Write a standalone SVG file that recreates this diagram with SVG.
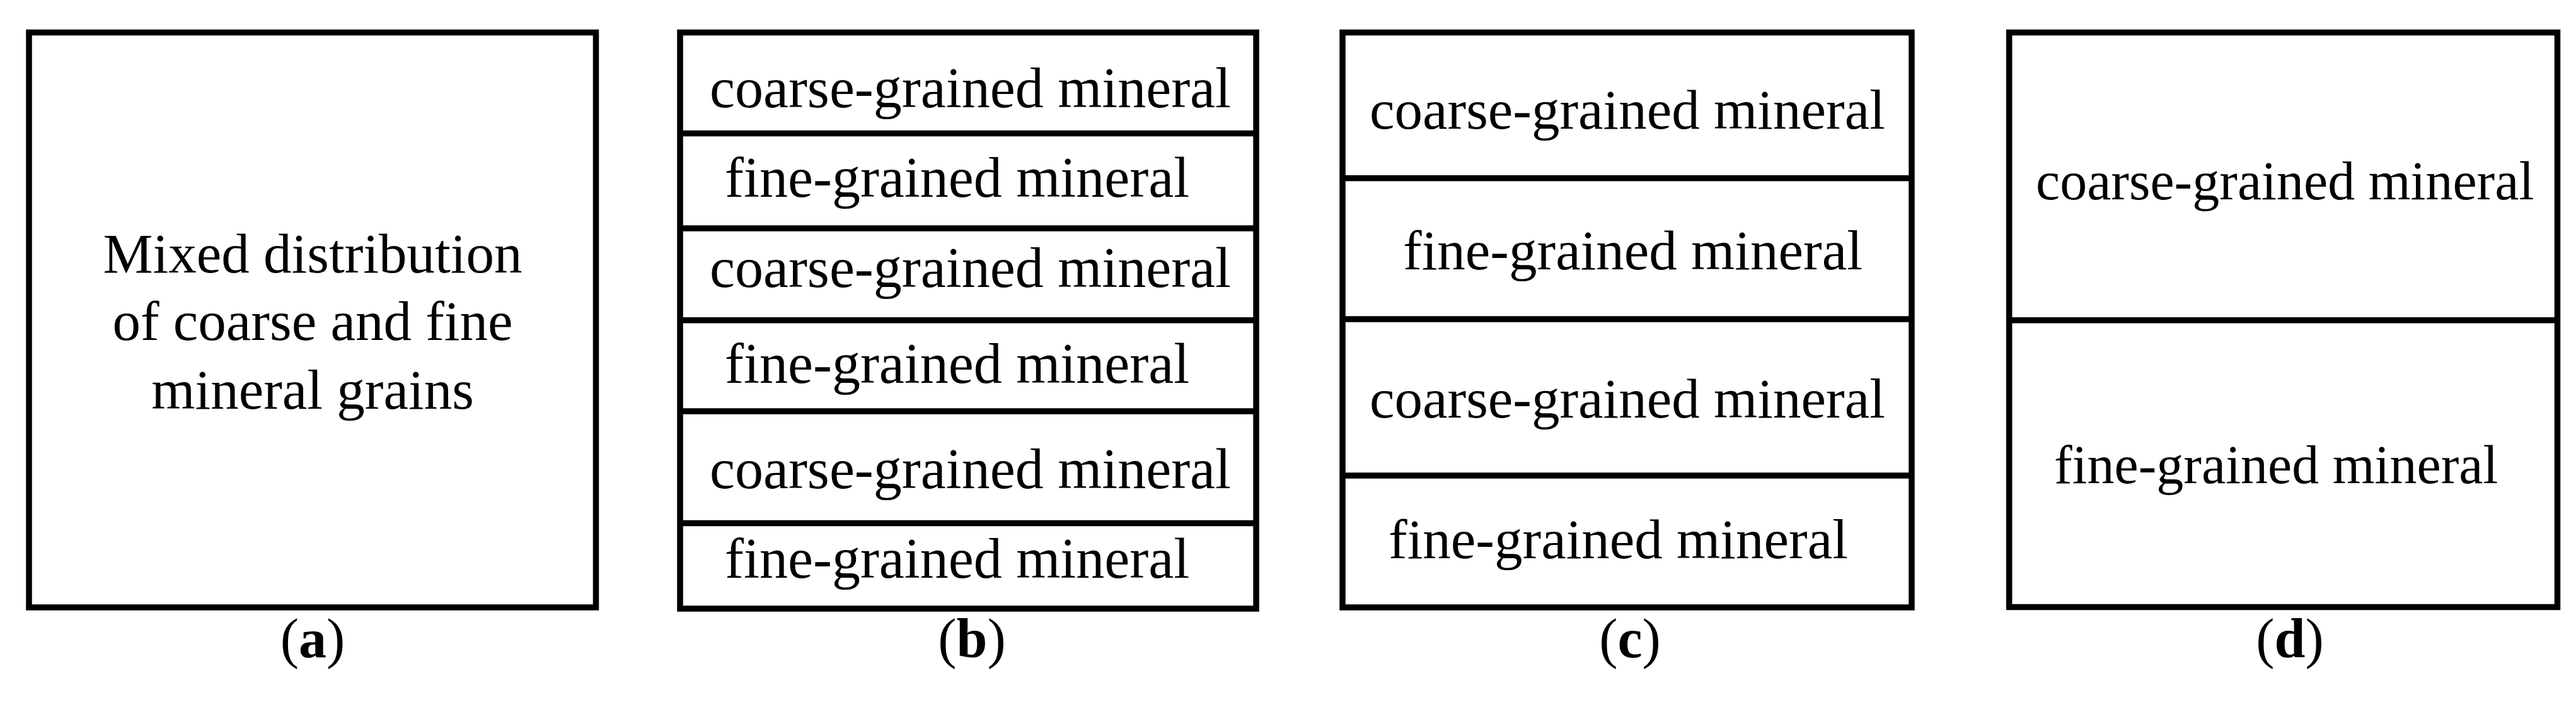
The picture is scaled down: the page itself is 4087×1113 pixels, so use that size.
<svg xmlns="http://www.w3.org/2000/svg" width="4087" height="1113" viewBox="0 0 4087 1113">
<style>
.box{fill:none;stroke:#000;stroke-width:9.5}
.div{stroke:#000;stroke-width:9.5}
.t{font-family:"Liberation Serif","Times New Roman",serif;fill:#000}
.lb{font-family:"Liberation Serif","Times New Roman",serif;font-size:88px;fill:#000;text-anchor:middle}
</style>
<rect width="4087" height="1113" fill="#fff"/>
<g id="panel-a">
<rect class="box" x="46" y="51.5" width="899.5" height="911.5"/>
<text class="t" font-size="89" text-anchor="middle" x="496" y="432">Mixed distribution</text>
<text class="t" font-size="89" text-anchor="middle" x="496" y="539">of coarse and fine</text>
<text class="t" font-size="89" text-anchor="middle" x="496" y="648">mineral grains</text>
<text class="lb" x="496" y="1042">(<tspan font-weight="bold">a</tspan>)</text>
</g>
<g id="panel-b">
<rect class="box" x="1079" y="51.5" width="914" height="913.5"/>
<line class="div" x1="1079" y1="211.5" x2="1993" y2="211.5"/>
<line class="div" x1="1079" y1="362" x2="1993" y2="362"/>
<line class="div" x1="1079" y1="507.7" x2="1993" y2="507.7"/>
<line class="div" x1="1079" y1="652" x2="1993" y2="652"/>
<line class="div" x1="1079" y1="829.5" x2="1993" y2="829.5"/>
<text class="t" font-size="90" x="1126" y="170">coarse-grained mineral</text>
<text class="t" font-size="90" x="1150" y="312">fine-grained mineral</text>
<text class="t" font-size="90" x="1126" y="455">coarse-grained mineral</text>
<text class="t" font-size="90" x="1150" y="607">fine-grained mineral</text>
<text class="t" font-size="90" x="1126" y="774">coarse-grained mineral</text>
<text class="t" font-size="90" x="1150" y="916">fine-grained mineral</text>
<text class="lb" x="1542" y="1042">(<tspan font-weight="bold">b</tspan>)</text>
</g>
<g id="panel-c">
<rect class="box" x="2130" y="51.5" width="903" height="911.5"/>
<line class="div" x1="2130" y1="282.5" x2="3033" y2="282.5"/>
<line class="div" x1="2130" y1="506" x2="3033" y2="506"/>
<line class="div" x1="2130" y1="754" x2="3033" y2="754"/>
<text class="t" font-size="89" x="2173" y="204">coarse-grained mineral</text>
<text class="t" font-size="89" x="2226" y="427">fine-grained mineral</text>
<text class="t" font-size="89" x="2173" y="662">coarse-grained mineral</text>
<text class="t" font-size="89" x="2203" y="885">fine-grained mineral</text>
<text class="lb" x="2586" y="1042">(<tspan font-weight="bold">c</tspan>)</text>
</g>
<g id="panel-d">
<rect class="box" x="3187.7" y="51.5" width="869.8" height="911"/>
<line class="div" x1="3187.7" y1="507.7" x2="4057.5" y2="507.7"/>
<text class="t" font-size="86" x="3230" y="316">coarse-grained mineral</text>
<text class="t" font-size="86" x="3259" y="766">fine-grained mineral</text>
<text class="lb" x="3633" y="1042">(<tspan font-weight="bold">d</tspan>)</text>
</g>
<g id="connectors"/>
</svg>
